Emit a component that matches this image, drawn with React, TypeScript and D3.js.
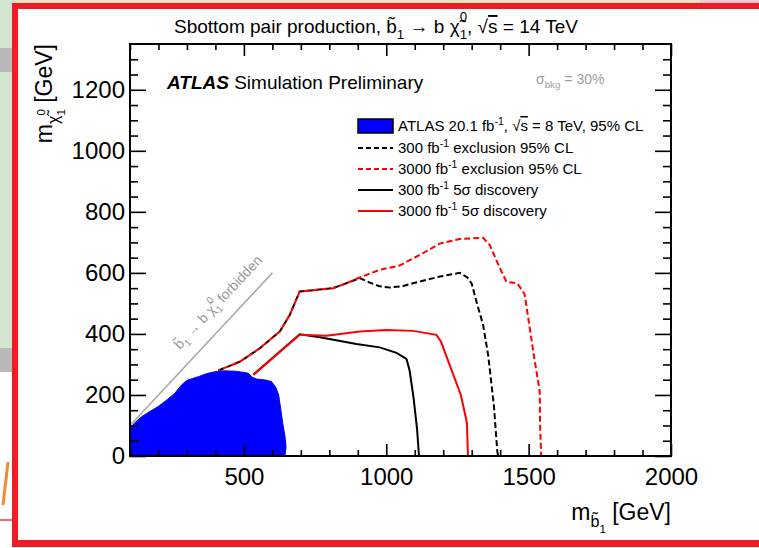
import React, { useEffect, useRef } from "react";
import * as d3 from "d3";

// axis ranges and ticks
const xDomain: [number, number] = [100, 2000];
const yDomain: [number, number] = [0, 1350];
const xMajorTicks = [500, 1000, 1500, 2000];
const xMinorTicks = [100, 200, 300, 400, 600, 700, 800, 900, 1100, 1200, 1300, 1400, 1600, 1700, 1800, 1900];
const yMajorTicks = [0, 200, 400, 600, 800, 1000, 1200];
const yMinorTicks = [50, 100, 150, 250, 300, 350, 450, 500, 550, 650, 700, 750, 850, 900, 950, 1050, 1100, 1150, 1250, 1300];

// [m_sbottom, m_neutralino] in GeV
const atlas8TeV: [number, number][] = [
  [100, 0], [100, 91], [120, 112], [141, 129], [170, 146], [199, 162], [230, 184], [258, 206],
  [280, 232], [300, 248], [340, 260], [370, 270], [398, 276], [430, 279], [468, 278], [500, 274],
  [515, 271], [530, 258], [545, 252], [575, 249], [597, 244], [612, 225], [622, 200], [630, 150],
  [636, 110], [645, 60], [648, 30], [644, 0],
];
const excl300: [number, number][] = [
  [410, 280], [486, 309], [556, 353], [626, 408], [661, 462], [696, 539], [750, 544], [813, 550],
  [860, 566], [907, 583], [942, 568], [977, 556], [1012, 552], [1060, 557], [1094, 566], [1188, 588],
  [1258, 600], [1285, 585], [1300, 565], [1317, 505], [1340, 430], [1358, 330], [1378, 165],
  [1390, 15], [1393, 0],
];
const excl3000: [number, number][] = [
  [410, 280], [486, 309], [556, 353], [626, 408], [661, 462], [696, 539], [750, 544], [813, 550],
  [860, 566], [907, 585], [977, 610], [1047, 624], [1120, 660], [1188, 696], [1258, 711], [1340, 715],
  [1363, 692], [1398, 618], [1422, 571], [1460, 566], [1486, 530], [1520, 320], [1539, 211],
  [1540, 110], [1544, 0],
];
const disc300: [number, number][] = [
  [533, 266], [696, 399], [767, 389], [895, 367], [977, 356], [1036, 338], [1071, 318], [1082, 280],
  [1096, 190], [1108, 90], [1115, 0],
];
const disc3000: [number, number][] = [
  [533, 266], [696, 397], [790, 394], [907, 408], [1001, 413], [1094, 410], [1176, 397], [1192, 375],
  [1262, 200], [1283, 110], [1287, 0],
];
const forbidden: [number, number][] = [[100, 100], [600, 600]];

// text pieces: [text, baseline offset (em, down), scale, dx (em), overline]
type Part = [string, number, number, number?, boolean?];
const titleParts: Part[] = [
  ["Sbottom pair production, b\u0303", 0, 1], ["1", 0.3, 0.7], [" \u2192 b \u03c7\u0303", 0, 1],
  ["1", 0.3, 0.7], ["0", -0.62, 0.7, -0.39], [", \u221a", 0, 1], ["s", 0, 1, 0, true], [" = 14 TeV", 0, 1],
];
const yTitleParts: Part[] = [
  ["m", 0, 1], ["\u03c7\u0303", 0.3, 0.7], ["1", 0.55, 0.5], ["0", -0.3, 0.5, -0.28], [" [GeV]", 0, 1],
];
const xTitleParts: Part[] = [["m", 0, 1], ["b\u0303", 0.3, 0.7], ["1", 0.55, 0.5], [" [GeV]", 0, 1]];
const forbiddenParts: Part[] = [
  ["b\u0303", 0, 1], ["1", 0.3, 0.7], [" \u2192 b \u03c7\u0303", 0, 1], ["1", 0.3, 0.7],
  ["0", -0.62, 0.7, -0.39], [" forbidden", 0, 1],
];
const sigmaParts: Part[] = [["\u03c3", 0, 1], ["bkg", 0.3, 0.7], [" = 30%", 0, 1]];
const legendTexts: Part[][] = [
  [["ATLAS 20.1 fb", 0, 1], ["-1", -0.4, 0.7], [", \u221a", 0, 1], ["s", 0, 1, 0, true], [" = 8 TeV, 95% CL", 0, 1]],
  [["300 fb", 0, 1], ["-1", -0.4, 0.7], [" exclusion 95% CL", 0, 1]],
  [["3000 fb", 0, 1], ["-1", -0.4, 0.7], [" exclusion 95% CL", 0, 1]],
  [["300 fb", 0, 1], ["-1", -0.4, 0.7], [" 5\u03c3 discovery", 0, 1]],
  [["3000 fb", 0, 1], ["-1", -0.4, 0.7], [" 5\u03c3 discovery", 0, 1]],
];
const legendStyles = [
  { color: "#0000ff", dash: "" },
  { color: "#000000", dash: "5,3" },
  { color: "#ff0000", dash: "5,3" },
  { color: "#000000", dash: "" },
  { color: "#ff0000", dash: "" },
];

const FONT = "'Liberation Sans', Arial, Helvetica, sans-serif";

function rich(text: d3.Selection<SVGTextElement, unknown, null, undefined>, parts: Part[], size: number) {
  let cur = 0;
  parts.forEach(([t, off, sc, dx, over]) => {
    const ts = text.append("tspan").attr("dy", (off - cur) * size).attr("font-size", sc * size).text(t);
    if (dx) ts.attr("dx", dx * size);
    if (over) ts.attr("text-decoration", "overline");
    cur = off;
  });
}

export default function App() {
  const ref = useRef<SVGSVGElement>(null);

  useEffect(() => {
    const svg = d3.select(ref.current);
    svg.selectAll("*").remove();

    // slide background around the framed screenshot
    svg.append("rect").attr("width", 759).attr("height", 548).attr("fill", "#fff");
    svg.append("rect").attr("x", 0).attr("y", 0).attr("width", 759).attr("height", 4).attr("fill", "#efe2c2");
    svg.append("rect").attr("x", 700).attr("y", 0).attr("width", 59).attr("height", 4).attr("fill", "#f3c9c9");
    svg.append("rect").attr("x", 0).attr("y", 0).attr("width", 13).attr("height", 360).attr("fill", "#d3e6cf");
    svg.append("rect").attr("x", 0).attr("y", 48).attr("width", 13).attr("height", 24).attr("fill", "#b9b9b9");
    svg.append("rect").attr("x", 0).attr("y", 348).attr("width", 13).attr("height", 24).attr("fill", "#b9b9b9");
    svg.append("path").attr("d", "M3,505 L8,462").attr("stroke", "#f08a3a").attr("stroke-width", 3);
    svg.append("path").attr("d", "M0,520 L12,520").attr("stroke", "#ee3b3b").attr("stroke-width", 1.5);
    svg.append("rect").attr("x", 12).attr("y", 3).attr("width", 6).attr("height", 544).attr("fill", "#ee1c25");
    svg.append("rect").attr("x", 12).attr("y", 3).attr("width", 747).attr("height", 6).attr("fill", "#ee1c25");
    svg.append("rect").attr("x", 12).attr("y", 540).attr("width", 747).attr("height", 7).attr("fill", "#ee1c25");

    const x = d3.scaleLinear().domain(xDomain).range([130, 671]);
    const y = d3.scaleLinear().domain(yDomain).range([456, 44]);
    const line = d3.line<[number, number]>().x((d) => x(d[0])).y((d) => y(d[1]));

    const plot = svg.append("g");

    // forbidden diagonal
    plot.append("path").datum(forbidden).attr("d", line).attr("fill", "none")
      .attr("stroke", "#a8a8a8").attr("stroke-width", 1.6);

    const drawCurve = (data: [number, number][], color: string, dash: string, offset = 0) =>
      plot.append("path").datum(data).attr("d", line).attr("fill", "none")
        .attr("stroke", color).attr("stroke-width", 2)
        .attr("stroke-dasharray", dash || null).attr("stroke-dashoffset", offset);

    drawCurve(excl300, "#000", "6,3");
    drawCurve(excl3000, "#ff0000", "6,3", 4);
    drawCurve(disc300, "#000", "");
    drawCurve(disc3000, "#ff0000", "");

    plot.append("path").datum(atlas8TeV)
      .attr("d", d3.line<[number, number]>().x((d) => x(d[0])).y((d) => y(d[1])).curve(d3.curveLinearClosed))
      .attr("fill", "#0000ff").attr("stroke", "#0000ff").attr("stroke-width", 1);

    // axes with inward ticks (ROOT style)
    const styleAxis = (g: d3.Selection<SVGGElement, unknown, null, undefined>) => {
      g.select(".domain").remove();
      g.selectAll("line").attr("stroke", "#000").attr("stroke-width", 1.6);
      g.selectAll("text").attr("font-family", FONT).attr("font-size", 24).attr("fill", "#000");
    };
    const gx = svg.append("g").attr("transform", "translate(0,456)")
      .call(d3.axisBottom(x).tickValues(xMajorTicks).tickSize(-12).tickPadding(11).tickFormat(d3.format("d")));
    styleAxis(gx);
    gx.selectAll("text").attr("dy", "0.75em");
    styleAxis(svg.append("g").attr("transform", "translate(0,456)")
      .call(d3.axisBottom(x).tickValues(xMinorTicks).tickSize(-6).tickFormat(() => "")));
    styleAxis(svg.append("g").attr("transform", "translate(0,44)")
      .call(d3.axisTop(x).tickValues(xMajorTicks).tickSize(-12).tickFormat(() => "")));
    styleAxis(svg.append("g").attr("transform", "translate(0,44)")
      .call(d3.axisTop(x).tickValues(xMinorTicks).tickSize(-6).tickFormat(() => "")));
    const gy = svg.append("g").attr("transform", "translate(130,0)")
      .call(d3.axisLeft(y).tickValues(yMajorTicks).tickSize(-16).tickPadding(5).tickFormat(d3.format("d")));
    styleAxis(gy);
    styleAxis(svg.append("g").attr("transform", "translate(130,0)")
      .call(d3.axisLeft(y).tickValues(yMinorTicks).tickSize(-8).tickFormat(() => "")));
    styleAxis(svg.append("g").attr("transform", "translate(671,0)")
      .call(d3.axisRight(y).tickValues(yMajorTicks).tickSize(-16).tickFormat(() => "")));
    styleAxis(svg.append("g").attr("transform", "translate(671,0)")
      .call(d3.axisRight(y).tickValues(yMinorTicks).tickSize(-8).tickFormat(() => "")));

    svg.append("rect").attr("x", 130).attr("y", 44).attr("width", 541).attr("height", 412)
      .attr("fill", "none").attr("stroke", "#000").attr("stroke-width", 2);

    // texts
    const text = (tx: number, ty: number, size: number, anchor = "start") =>
      svg.append("text").attr("x", tx).attr("y", ty).attr("font-family", FONT)
        .attr("font-size", size).attr("text-anchor", anchor).attr("fill", "#000");

    rich(text(376, 33, 19, "middle"), titleParts, 19);

    const atlas = text(167, 89, 19);
    atlas.append("tspan").attr("font-weight", "bold").attr("font-style", "italic").text("ATLAS");
    atlas.append("tspan").text(" Simulation Preliminary");

    rich(text(536, 84, 14).attr("fill", "#a0a0a0"), sigmaParts, 14);

    // forbidden label along diagonal
    const fx = x(314) - 0.731 * 15;
    const fy = y(314) - 0.682 * 15;
    const angle = (Math.atan2(y(600) - y(100), x(600) - x(100)) * 180) / Math.PI;
    rich(svg.append("text").attr("transform", `translate(${fx},${fy}) rotate(${angle})`)
      .attr("font-family", FONT).attr("font-size", 14).attr("fill", "#9a9a9a"), forbiddenParts, 14);

    // axis titles
    rich(text(671, 520, 23, "end"), xTitleParts, 23);
    rich(svg.append("text").attr("transform", "translate(52,44) rotate(-90)")
      .attr("font-family", FONT).attr("font-size", 23).attr("text-anchor", "end"), yTitleParts, 23);

    // legend
    const rowY = [126, 148, 169, 190, 211];
    legendStyles.forEach((st, i) => {
      if (i === 0) {
        svg.append("rect").attr("x", 358).attr("y", rowY[i] - 7).attr("width", 35).attr("height", 14)
          .attr("fill", st.color).attr("stroke", "#000").attr("stroke-width", 1.5);
      } else {
        svg.append("line").attr("x1", 358).attr("x2", 393).attr("y1", rowY[i]).attr("y2", rowY[i])
          .attr("stroke", st.color).attr("stroke-width", 2).attr("stroke-dasharray", st.dash || null);
      }
      rich(text(398, rowY[i] + 5, 15), legendTexts[i], 15);
    });
  }, []);

  return <svg ref={ref} width={759} height={548} style={{ position: "absolute", left: 0, top: 0 }} />;
}
